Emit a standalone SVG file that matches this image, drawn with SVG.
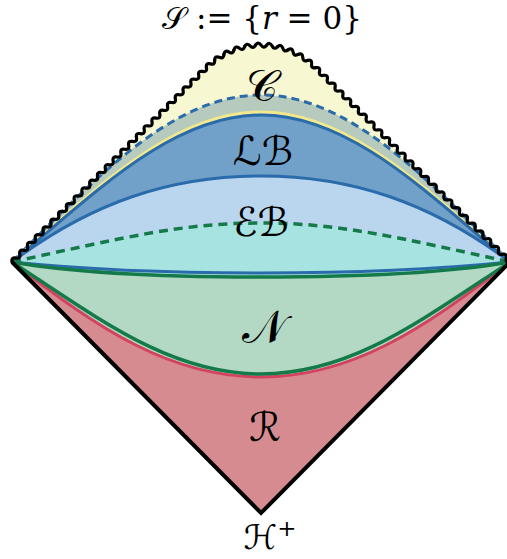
<svg xmlns="http://www.w3.org/2000/svg" xmlns:xlink="http://www.w3.org/1999/xlink" width="507" height="559" viewBox="0 0 507 559">
<style>
.lbl{font-family:"DejaVu Serif","DejaVu Sans",serif;fill:#000;text-anchor:middle}
.big{font-size:40px}
.blue{fill:none;stroke:#2a6cab;stroke-width:3}
.green{fill:none;stroke:#157a4a;stroke-width:3.5}
.red{fill:none;stroke:#d3435f;stroke-width:3}
.wave{fill:none;stroke:#000;stroke-width:3.2;stroke-linecap:round;stroke-linejoin:round}
</style>
<defs>
<path id="wline" d="M0,0 q2.75,-4 5.5,0 t5.5,0 t5.5,0 t5.5,0 t5.5,0 t5.5,0 t5.5,0 t5.5,0 t5.5,0 t5.5,0 t5.5,0 t5.5,0 t5.5,0 t5.5,0 t5.5,0 t5.5,0 t5.5,0 t5.5,0 t5.5,0 t5.5,0 t5.5,0 t5.5,0 t5.5,0 t5.5,0 t5.5,0 t5.5,0 t5.5,0 t5.5,0 t5.5,0 t5.5,0 t5.5,0 t5.5,0 t5.5,0 t5.5,0 t5.5,0 t5.5,0 t5.5,0 t5.5,0 t5.5,0 t5.5,0 t5.5,0 t5.5,0 t5.5,0 t5.5,0 t5.5,0 t5.5,0 t5.5,0 t5.5,0 t5.5,0 t5.5,0"/>
<path id="warc" d="M-5.514,-77.103 Q-2.902,-81.248 0,-77.3 Q2.616,-73.253 5.514,-77.103"/>
</defs>
<g id="regions">
<path id="region-C" fill="#f7f7d2" d="M12,262 L206.34,67.64 A77.3,77.3 0 0 1 315.66,67.64 L510,262 L261,513 Z"/>
<path id="region-C2" fill="#b6cbbd" d="M12,262 C92,182 171,95 261,95 C351,95 430,182 510,262 L261,513 Z"/>
<path id="region-LB" fill="#71a0c8" d="M12,262 C92,196 171,115 261,115 C351,115 430,196 510,262 L261,513 Z"/>
<path id="region-EB" fill="#bad5ee" d="M12,262 C92,202 171,176 261,176 C351,176 430,202 510,262 L261,513 Z"/>
<path id="region-EB2" fill="#a7e3e1" d="M12,262 C122,238 181,223 261,223 C341,223 400,238 510,262 L261,513 Z"/>
<path id="region-N" fill="#b3d8c3" d="M12,262 C80,274 170,277 261,277 C352,277 442,274 510,262 L261,513 Z"/>
<path id="region-R" fill="#d58b90" d="M12,262 C100,330 171,377 261,377 C351,377 422,330 510,262 L261,513 Z"/>
</g>
<g id="connectors">
<path class="blue" stroke-dasharray="8 5" d="M12,262 C92,182 171,95 261,95 C351,95 430,182 510,262"/>
<path fill="none" stroke="#f4e98a" stroke-width="3" d="M12,262 C92,193 171,112 261,112 C351,112 430,193 510,262"/>
<path class="blue" d="M12,262 C92,196 171,115 261,115 C351,115 430,196 510,262"/>
<path class="blue" d="M12,262 C92,202 171,176 261,176 C351,176 430,202 510,262"/>
<path class="green" stroke-dasharray="9 6" d="M12,262 C122,238 181,223 261,223 C341,223 400,238 510,262"/>
<path class="blue" d="M12,262 C80,269 170,273 261,273 C352,273 442,269 510,262"/>
<path class="green" d="M12,262 C80,274 170,277 261,277 C352,277 442,274 510,262"/>
<path class="red" d="M12,262 C100,330 171,377 261,377 C351,377 422,330 510,262"/>
<path class="green" d="M12,262 C102,321 171,374 261,374 C351,374 420,321 510,262"/>
<path fill="none" stroke="#000" stroke-width="4" stroke-linejoin="miter" d="M12,262 L261,513 L510,262"/>
</g>
<g id="singularity" class="wave">
<use xlink:href="#wline" transform="translate(12,262) rotate(-45)"/>
<use xlink:href="#wline" transform="translate(315.66,67.64) rotate(45)"/>
<use xlink:href="#warc" transform="translate(261,122.3) rotate(-40.909)"/>
<use xlink:href="#warc" transform="translate(261,122.3) rotate(-32.727)"/>
<use xlink:href="#warc" transform="translate(261,122.3) rotate(-24.545)"/>
<use xlink:href="#warc" transform="translate(261,122.3) rotate(-16.364)"/>
<use xlink:href="#warc" transform="translate(261,122.3) rotate(-8.182)"/>
<use xlink:href="#warc" transform="translate(261,122.3)"/>
<use xlink:href="#warc" transform="translate(261,122.3) rotate(8.182)"/>
<use xlink:href="#warc" transform="translate(261,122.3) rotate(16.364)"/>
<use xlink:href="#warc" transform="translate(261,122.3) rotate(24.545)"/>
<use xlink:href="#warc" transform="translate(261,122.3) rotate(32.727)"/>
<use xlink:href="#warc" transform="translate(261,122.3) rotate(40.909)"/>
</g>
<g id="labels">
<text id="label-S" class="lbl" x="262" y="29" font-size="31">𝒮 := {<tspan font-style="italic">r</tspan> = 0}</text>
<text id="label-C" class="lbl" x="262" y="101" font-size="44">𝒞</text>
<text id="label-LB" class="lbl big" x="263" y="165">ℒℬ</text>
<text id="label-EB" class="lbl big" x="261" y="236">ℰℬ</text>
<text id="label-N" class="lbl" x="264" y="343" font-size="46">𝒩</text>
<text id="label-R" class="lbl big" x="265" y="441">ℛ</text>
<text id="label-H" class="lbl" x="270" y="549" font-size="34">ℋ<tspan font-size="23" dy="-13">+</tspan></text>
</g>
</svg>
